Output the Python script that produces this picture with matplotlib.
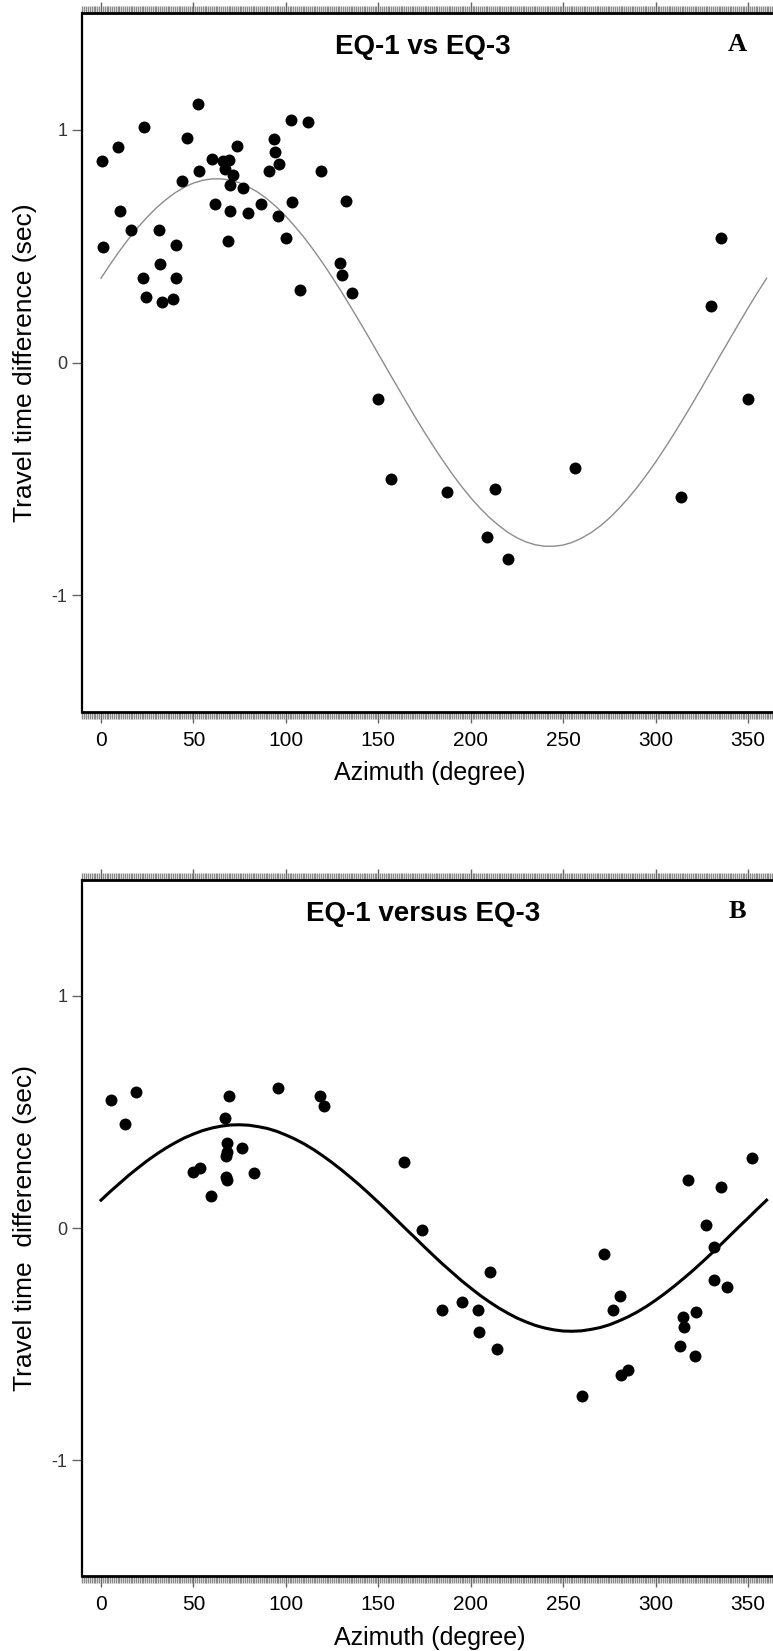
import matplotlib
matplotlib.use('Agg')
import matplotlib.pyplot as plt
from matplotlib.ticker import MultipleLocator

plt.rcParams['font.family'] = ['Liberation Sans', 'DejaVu Sans']

# panel A : EQ-1 vs EQ-3
az_a = [0.8, 1.3, 9.3, 10.1, 16.0, 23.5, 22.7, 24.3, 31.5, 32.0,
        32.8, 39.2, 40.5, 40.5, 43.6, 46.7, 52.5, 53.0, 60.2, 61.7,
        66.2, 69.2, 67.1, 71.6, 69.8, 77.0, 68.5, 69.8, 73.7, 79.3,
        86.4, 91.0, 93.6, 94.1, 96.3, 95.9, 99.9, 102.6, 103.5, 107.4,
        112.0, 119.0, 129.3, 130.2, 132.5, 135.7, 149.8, 156.7, 187.4, 208.7,
        213.2, 219.9, 256.4, 313.5, 329.7, 335.1, 350.0]
dt_a = [0.867, 0.498, 0.925, 0.653, 0.570, 1.010, 0.362, 0.283, 0.570, 0.423,
        0.258, 0.275, 0.505, 0.362, 0.778, 0.964, 1.110, 0.821, 0.874, 0.680,
        0.864, 0.868, 0.831, 0.806, 0.761, 0.749, 0.524, 0.651, 0.931, 0.641,
        0.680, 0.824, 0.961, 0.903, 0.854, 0.631, 0.534, 1.043, 0.689, 0.311,
        1.032, 0.825, 0.429, 0.376, 0.692, 0.297, -0.155, -0.499, -0.557, -0.750,
        -0.542, -0.844, -0.452, -0.578, 0.244, 0.534, -0.155]

# panel B : EQ-1 versus EQ-3
az_b = [5.6, 13.0, 19.2, 49.8, 53.8, 59.6, 67.1, 69.2, 68.4, 67.9,
        67.6, 67.6, 68.4, 76.4, 82.5, 95.6, 118.4, 120.8, 163.7, 173.5,
        184.2, 195.4, 204.1, 204.7, 210.3, 214.3, 260.0, 272.0, 276.8, 280.8,
        281.3, 285.3, 313.2, 314.6, 315.4, 317.3, 321.2, 321.8, 327.1, 331.8,
        331.8, 335.1, 338.5, 351.9]
dt_b = [0.550, 0.447, 0.586, 0.242, 0.257, 0.139, 0.473, 0.571, 0.365, 0.329,
        0.310, 0.221, 0.206, 0.346, 0.235, 0.603, 0.571, 0.527, 0.286, -0.007,
        -0.352, -0.317, -0.352, -0.447, -0.190, -0.522, -0.726, -0.111, -0.353, -0.295,
        -0.634, -0.611, -0.510, -0.385, -0.428, 0.209, -0.550, -0.360, 0.012, -0.082,
        -0.226, 0.177, -0.255, 0.300]

curve_az = list(range(0, 361, 5))
curve_a = [0.362, 0.422, 0.479, 0.532, 0.581, 0.625, 0.665, 0.699, 0.729, 0.753,
           0.771, 0.783, 0.789, 0.789, 0.784, 0.772, 0.754, 0.731, 0.702, 0.668,
           0.628, 0.584, 0.536, 0.483, 0.427, 0.367, 0.305, 0.240, 0.174, 0.106,
           0.037, -0.032, -0.100, -0.168, -0.235, -0.300, -0.362, -0.422, -0.479, -0.532,
           -0.581, -0.625, -0.665, -0.699, -0.729, -0.753, -0.771, -0.783, -0.789, -0.789,
           -0.784, -0.772, -0.754, -0.731, -0.702, -0.668, -0.628, -0.584, -0.536, -0.483,
           -0.427, -0.367, -0.305, -0.240, -0.174, -0.106, -0.037, 0.032, 0.100, 0.168,
           0.235, 0.300, 0.362]
curve_b = [0.120, 0.157, 0.192, 0.227, 0.259, 0.290, 0.318, 0.344, 0.367, 0.388,
           0.405, 0.420, 0.431, 0.439, 0.444, 0.445, 0.443, 0.437, 0.429, 0.417,
           0.401, 0.383, 0.362, 0.338, 0.311, 0.282, 0.251, 0.218, 0.184, 0.148,
           0.111, 0.073, 0.034, -0.005, -0.043, -0.082, -0.120, -0.157, -0.192, -0.227,
           -0.259, -0.290, -0.318, -0.344, -0.367, -0.388, -0.405, -0.420, -0.431, -0.439,
           -0.444, -0.445, -0.443, -0.437, -0.429, -0.417, -0.401, -0.383, -0.362, -0.338,
           -0.311, -0.282, -0.251, -0.218, -0.184, -0.148, -0.111, -0.073, -0.034, 0.005,
           0.043, 0.082, 0.120]

xticks = [0, 50, 100, 150, 200, 250, 300, 350]
yticks = [-1, 0, 1]


def panel(ax, az, dt, curve, title, letter, lc, lw, ylab):
	ax.plot(curve_az, curve, color=lc, lw=lw, zorder=2)
	ax.plot(az, dt, 'o', color='black', markersize=8.6, markeredgewidth=0, zorder=3)

	ax.set_xlim(-10, 366)
	ax.set_ylim(-1.5, 1.5)
	ax.set_xticks(xticks)
	ax.set_yticks(yticks)
	ax.set_yticklabels(['-1', '0', '1'])
	ax.xaxis.set_minor_locator(MultipleLocator(1))

	ax.tick_params(axis='x', which='major', direction='out', top=True, length=8,
				   width=1, color='#666666', labelsize=15, pad=6)
	ax.tick_params(axis='x', which='minor', direction='out', top=True, length=5,
				   width=1.0, color='#8a8a8a')
	ax.tick_params(axis='y', direction='out', length=7, width=1, color='#666666',
				   labelsize=13, labelcolor='#333333', pad=4)

	ax.spines['left'].set_linewidth(1.6)
	ax.spines['bottom'].set_linewidth(2.0)
	ax.spines['top'].set_linewidth(2.0)
	ax.spines['right'].set_linewidth(1.6)

	ax.text(174, 1.355, title, ha='center', va='center', fontsize=20, fontweight='bold')
	ax.text(344, 1.365, letter, ha='center', va='center', fontsize=19, fontweight='bold',
			family='Liberation Serif')

	ax.set_xlabel('Azimuth (degree)', fontsize=18, labelpad=8)
	ax.set_ylabel(ylab, fontsize=19)
	ax.yaxis.set_label_coords(-0.066, 0.5)


def main():
	fig = plt.figure(figsize=(7.73, 16.51), dpi=100)

	ax1 = fig.add_axes([0.1067, 0.5689, 0.8994, 0.4230])
	panel(ax1, az_a, dt_a, curve_a, 'EQ-1 vs EQ-3', 'A', '#8c8c8c', 1.0,
		  'Travel time difference (sec)')

	ax2 = fig.add_axes([0.1067, 0.0454, 0.8994, 0.4216])
	panel(ax2, az_b, dt_b, curve_b, 'EQ-1 versus EQ-3', 'B', 'black', 2.2,
		  'Travel time  difference (sec)')

	fig.savefig('out.png', dpi=100)


if __name__ == '__main__':
	main()
